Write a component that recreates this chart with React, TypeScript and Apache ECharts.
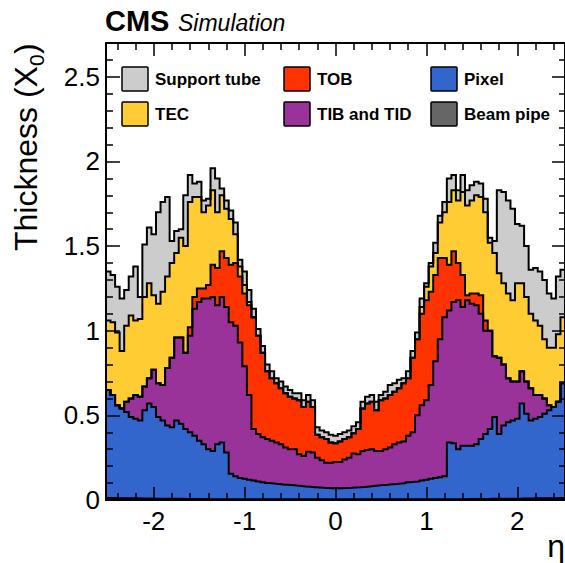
import React, { useEffect, useRef } from "react";
import * as echarts from "echarts";

// ---- axis ranges ----
const ETA_MIN = -2.525;
const ETA_MAX = 2.525;
const BIN_WIDTH = 0.05;
const Y_MAX = 2.7;

// ---- tick labels ----
const xMajorTicks = [-2, -1, 0, 1, 2];
const xMinorTicks = [-2.4, -2.2, -1.8, -1.6, -1.4, -1.2, -0.8, -0.6, -0.4, -0.2, 0.2, 0.4, 0.6, 0.8, 1.2, 1.4, 1.6, 1.8, 2.2, 2.4];
const yMajorTicks = [0, 0.5, 1, 1.5, 2, 2.5];
const yMinorTicks = [0.1, 0.2, 0.3, 0.4, 0.6, 0.7, 0.8, 0.9, 1.1, 1.2, 1.3, 1.4, 1.6, 1.7, 1.8, 1.9, 2.1, 2.2, 2.3, 2.4, 2.6];

// ---- cumulative material (X0) up to and including each layer, 101 bins of 0.05 in eta from -2.525 ----
const beamPipeTop = [
  0.012, 0.012, 0.011, 0.011, 0.010, 0.010, 0.010, 0.009, 0.009, 0.009,
  0.008, 0.008, 0.008, 0.007, 0.007, 0.007, 0.007, 0.006, 0.006, 0.006,
  0.006, 0.006, 0.005, 0.005, 0.005, 0.005, 0.005, 0.005, 0.005, 0.004,
  0.004, 0.004, 0.004, 0.004, 0.004, 0.004, 0.004, 0.004, 0.004, 0.004,
  0.004, 0.004, 0.004, 0.004, 0.004, 0.004, 0.004, 0.004, 0.004, 0.004,
  0.004, 0.004, 0.004, 0.004, 0.004, 0.004, 0.004, 0.004, 0.004, 0.004,
  0.004, 0.004, 0.004, 0.004, 0.004, 0.004, 0.004, 0.004, 0.004, 0.004,
  0.004, 0.004, 0.005, 0.005, 0.005, 0.005, 0.005, 0.005, 0.005, 0.006,
  0.006, 0.006, 0.006, 0.006, 0.007, 0.007, 0.007, 0.007, 0.008, 0.008,
  0.008, 0.009, 0.009, 0.009, 0.010, 0.010, 0.010, 0.011, 0.011, 0.012,
  0.012,
];

const pixelTop = [
  0.65, 0.62, 0.56, 0.54, 0.52, 0.49, 0.48, 0.47, 0.53, 0.57,
  0.55, 0.49, 0.47, 0.44, 0.43, 0.47, 0.45, 0.42, 0.40, 0.38,
  0.35, 0.33, 0.30, 0.29, 0.33, 0.34, 0.28, 0.155, 0.14, 0.13,
  0.125, 0.12, 0.115, 0.11, 0.105, 0.10, 0.098, 0.095, 0.092, 0.09,
  0.088, 0.085, 0.083, 0.08, 0.078, 0.076, 0.074, 0.072, 0.071, 0.07,
  0.069, 0.07, 0.071, 0.072, 0.074, 0.075, 0.077, 0.08, 0.083, 0.086,
  0.088, 0.09, 0.093, 0.095, 0.098, 0.10, 0.105, 0.108, 0.11, 0.115,
  0.12, 0.125, 0.13, 0.135, 0.14, 0.34, 0.335, 0.30, 0.32, 0.32,
  0.32, 0.33, 0.36, 0.39, 0.42, 0.49, 0.39, 0.44, 0.46, 0.47,
  0.48, 0.57, 0.51, 0.47, 0.48, 0.49, 0.51, 0.53, 0.55, 0.58,
  0.69,
];

const tibTidTop = [
  0.65, 0.62, 0.56, 0.54, 0.58, 0.60, 0.62, 0.61, 0.67, 0.72,
  0.77, 0.69, 0.68, 0.78, 0.84, 0.96, 0.96, 0.87, 0.97, 1.13,
  1.17, 1.19, 1.19, 1.20, 1.15, 1.20, 1.14, 1.05, 1.03, 0.93,
  0.79, 0.62, 0.42, 0.39, 0.37, 0.36, 0.35, 0.34, 0.33, 0.31,
  0.30, 0.30, 0.27, 0.26, 0.285, 0.28, 0.25, 0.235, 0.22, 0.22,
  0.225, 0.225, 0.24, 0.25, 0.275, 0.27, 0.29, 0.295, 0.30, 0.29,
  0.29, 0.30, 0.31, 0.33, 0.34, 0.345, 0.38, 0.40, 0.50, 0.56,
  0.59, 0.68, 0.82, 0.95, 1.08, 1.12, 1.17, 1.18, 1.14, 1.18,
  1.16, 1.15, 1.10, 1.00, 1.00, 0.85, 0.84, 0.80, 0.72, 0.70,
  0.70, 0.76, 0.70, 0.66, 0.62, 0.62, 0.60, 0.56, 0.55, 0.58,
  0.69,
];

const tobTop = [
  0.65, 0.62, 0.56, 0.54, 0.58, 0.60, 0.62, 0.61, 0.67, 0.72,
  0.77, 0.69, 0.68, 0.78, 0.84, 0.96, 0.96, 0.87, 1.02, 1.20,
  1.25, 1.25, 1.27, 1.39, 1.37, 1.47, 1.43, 1.39, 1.40, 1.32,
  1.22, 1.15, 1.08, 0.97, 0.87, 0.76, 0.72, 0.69, 0.66, 0.63,
  0.61, 0.60, 0.59, 0.55, 0.58, 0.55, 0.385, 0.37, 0.36, 0.34,
  0.335, 0.345, 0.36, 0.37, 0.395, 0.42, 0.54, 0.57, 0.58, 0.53,
  0.59, 0.60, 0.62, 0.64, 0.66, 0.69, 0.72, 0.84, 0.95, 1.10,
  1.18, 1.23, 1.33, 1.43, 1.43, 1.39, 1.47, 1.40, 1.33, 1.21,
  1.22, 1.22, 1.21, 1.06, 1.00, 0.85, 0.84, 0.80, 0.72, 0.70,
  0.70, 0.76, 0.70, 0.66, 0.62, 0.62, 0.60, 0.56, 0.55, 0.58,
  0.69,
];

const tecTop = [
  1.06, 1.05, 0.99, 0.88, 1.03, 1.09, 1.06, 1.07, 1.20, 1.28,
  1.21, 1.16, 1.23, 1.32, 1.40, 1.46, 1.55, 1.50, 1.76, 1.79,
  1.79, 1.70, 1.74, 1.83, 1.70, 1.80, 1.72, 1.66, 1.57, 1.38,
  1.27, 1.17, 1.08, 0.97, 0.87, 0.76, 0.72, 0.69, 0.66, 0.63,
  0.61, 0.60, 0.59, 0.55, 0.58, 0.55, 0.385, 0.37, 0.36, 0.34,
  0.335, 0.345, 0.36, 0.37, 0.395, 0.42, 0.54, 0.57, 0.58, 0.53,
  0.59, 0.60, 0.62, 0.64, 0.66, 0.69, 0.72, 0.84, 0.95, 1.14,
  1.26, 1.38, 1.46, 1.64, 1.70, 1.76, 1.83, 1.77, 1.82, 1.74,
  1.77, 1.80, 1.79, 1.70, 1.52, 1.46, 1.34, 1.28, 1.22, 1.18,
  1.28, 1.28, 1.20, 1.10, 1.06, 1.03, 0.95, 0.90, 0.90, 0.98,
  1.08,
];

const supportTubeTop = [
  1.35, 1.33, 1.26, 1.19, 1.24, 1.32, 1.38, 1.20, 1.51, 1.61,
  1.57, 1.70, 1.76, 1.79, 1.53, 1.59, 1.60, 1.80, 1.92, 1.87,
  1.88, 1.77, 1.78, 1.96, 1.90, 1.84, 1.77, 1.71, 1.64, 1.42,
  1.35, 1.24, 1.13, 1.01, 0.91, 0.80, 0.76, 0.72, 0.70, 0.67,
  0.65, 0.63, 0.63, 0.59, 0.62, 0.59, 0.43, 0.41, 0.40, 0.385,
  0.38, 0.39, 0.40, 0.41, 0.435, 0.46, 0.58, 0.61, 0.62, 0.58,
  0.62, 0.64, 0.68, 0.69, 0.71, 0.72, 0.76, 0.88, 0.99, 1.19,
  1.28, 1.40, 1.52, 1.68, 1.76, 1.90, 1.92, 1.83, 1.92, 1.83,
  1.86, 1.88, 1.87, 1.78, 1.55, 1.53, 1.83, 1.82, 1.77, 1.72,
  1.63, 1.62, 1.50, 1.36, 1.37, 1.35, 1.30, 1.22, 1.19, 1.32,
  1.36,
];

// ---- layers (drawn from the outermost inwards) ----
const layerNames = ["Support tube", "TEC", "TOB", "TIB and TID", "Pixel", "Beam pipe"];
const layerColors = ["#cccccc", "#ffcc33", "#ff3300", "#993399", "#3366cc", "#666666"];
const layerData = [supportTubeTop, tecTop, tobTop, tibTidTop, pixelTop, beamPipeTop];

// legend order, read row by row (3 columns x 2 rows)
const legendOrder = ["Support tube", "TOB", "Pixel", "TEC", "TIB and TID", "Beam pipe"];

const FONT = '"Liberation Sans", Arial, Helvetica, sans-serif';

function toSteps(values: number[]): [number, number][] {
  const pts: [number, number][] = values.map((v, i) => [ETA_MIN + i * BIN_WIDTH, v]);
  pts.push([ETA_MIN + values.length * BIN_WIDTH, values[values.length - 1]]);
  return pts;
}

function xAxisDef(position: string, ticks: number[], len: number, showLabel: boolean, showLine: boolean) {
  return {
    type: "value",
    position,
    min: ETA_MIN,
    max: ETA_MAX,
    z: 10,
    axisLine: { show: showLine, onZero: false, lineStyle: { color: "#000", width: 2 } },
    axisTick: { show: true, inside: true, length: len, customValues: ticks, lineStyle: { color: "#000", width: 1.5 } },
    axisLabel: showLabel
      ? { show: true, customValues: ticks, fontSize: 26, color: "#000", margin: 8, fontFamily: FONT }
      : { show: false },
    splitLine: { show: false },
  };
}

function yAxisDef(position: string, ticks: number[], len: number, showLabel: boolean, showLine: boolean) {
  return {
    type: "value",
    position,
    min: 0,
    max: Y_MAX,
    z: 10,
    axisLine: { show: showLine, onZero: false, lineStyle: { color: "#000", width: 2 } },
    axisTick: { show: true, inside: true, length: len, customValues: ticks, lineStyle: { color: "#000", width: 1.5 } },
    axisLabel: showLabel
      ? { show: true, customValues: ticks, fontSize: 26, color: "#000", margin: 6, fontFamily: FONT }
      : { show: false },
    splitLine: { show: false },
  };
}

export default function App() {
  const ref = useRef<HTMLDivElement>(null);

  useEffect(() => {
    if (!ref.current) return;
    const chart = echarts.init(ref.current, undefined, { renderer: "svg" });

    const series = layerNames.map((name, k) => ({
      type: "line",
      name,
      data: toSteps(layerData[k]),
      step: "end",
      symbol: "none",
      showSymbol: false,
      silent: true,
      color: layerColors[k],
      itemStyle: { color: layerColors[k] },
      lineStyle: { color: "#000", width: 2, join: "miter" },
      areaStyle: { color: layerColors[k], opacity: 1 },
      z: 2,
    }));

    const colX = [122, 284, 431];
    const rowY = [67, 102];
    const legendGraphics: any[] = [];
    legendOrder.forEach((name, idx) => {
      const col = idx % 3;
      const row = Math.floor(idx / 3);
      const color = layerColors[layerNames.indexOf(name)];
      legendGraphics.push({
        type: "rect",
        shape: { x: colX[col], y: rowY[row], width: 26, height: 24, r: 1 },
        style: { fill: color, stroke: "#000", lineWidth: 1.5 },
        z: 20,
      });
      legendGraphics.push({
        type: "text",
        x: colX[col] + 33,
        y: rowY[row] + 12,
        style: {
          text: name,
          fontSize: 17,
          fontWeight: "bold",
          fontFamily: FONT,
          fill: "#000",
          align: "left",
          verticalAlign: "middle",
        },
        z: 20,
      });
    });

    const graphic = [
      ...legendGraphics,
      {
        type: "text",
        x: 105,
        y: 21,
        style: { text: "CMS", fontSize: 29, fontWeight: "bold", fontFamily: FONT, fill: "#000", align: "left", verticalAlign: "middle" },
      },
      {
        type: "text",
        x: 178,
        y: 23,
        style: { text: "Simulation", fontSize: 23, fontStyle: "italic", fontFamily: FONT, fill: "#000", align: "left", verticalAlign: "middle" },
      },
      {
        type: "text",
        x: 26,
        y: 251,
        rotation: Math.PI / 2,
        style: { text: "Thickness (X", fontSize: 32, fontFamily: FONT, fill: "#000", align: "left", verticalAlign: "middle" },
      },
      {
        type: "text",
        x: 36,
        y: 66,
        rotation: Math.PI / 2,
        style: { text: "0", fontSize: 21, fontFamily: FONT, fill: "#000", align: "left", verticalAlign: "middle" },
      },
      {
        type: "text",
        x: 26,
        y: 54,
        rotation: Math.PI / 2,
        style: { text: ")", fontSize: 32, fontFamily: FONT, fill: "#000", align: "left", verticalAlign: "middle" },
      },
      {
        type: "text",
        x: 565,
        y: 546,
        style: { text: "η", fontSize: 32, fontFamily: FONT, fill: "#000", align: "right", verticalAlign: "middle" },
      },
    ];

    const option: any = {
      animation: false,
      textStyle: { fontFamily: FONT },
      grid: { left: 106, right: 0, top: 43, bottom: 63, containLabel: false, outerBoundsMode: "none" },
      xAxis: [
        xAxisDef("bottom", xMajorTicks, 13, true, true),
        xAxisDef("bottom", xMinorTicks, 7, false, false),
        xAxisDef("top", xMajorTicks, 13, false, true),
        xAxisDef("top", xMinorTicks, 7, false, false),
      ],
      yAxis: [
        yAxisDef("left", yMajorTicks, 14, true, true),
        yAxisDef("left", yMinorTicks, 7, false, false),
        yAxisDef("right", yMajorTicks, 13, false, true),
        yAxisDef("right", yMinorTicks, 6, false, false),
      ],
      series,
      graphic,
    };

    chart.setOption(option);
    return () => chart.dispose();
  }, []);

  return (
    <div
      ref={ref}
      style={{ position: "absolute", left: 0, top: 0, width: 565, height: 563, background: "#fff" }}
    />
  );
}
